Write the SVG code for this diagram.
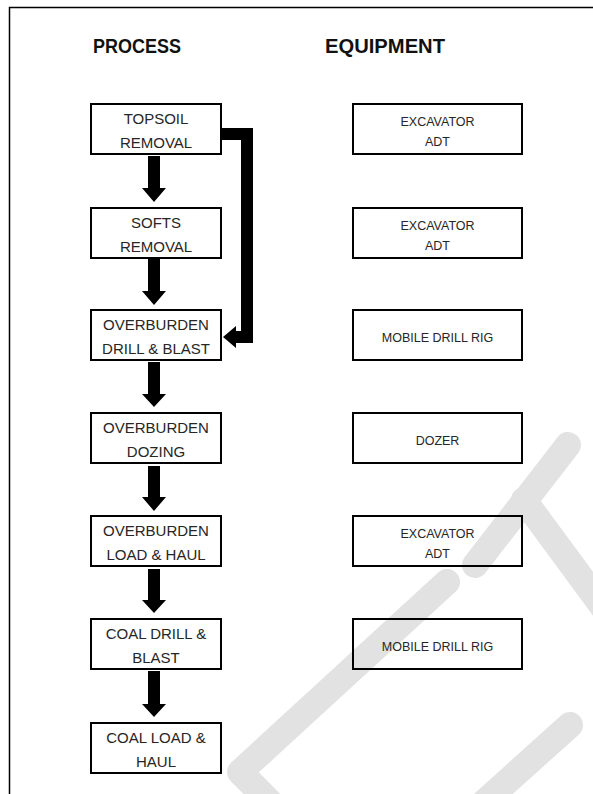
<svg xmlns="http://www.w3.org/2000/svg" width="593" height="794" viewBox="0 0 593 794">
  <style>
    .frame { fill: none; stroke: #000; stroke-width: 1.5; }
    .wm { fill: none; stroke: #e2e2e2; stroke-width: 26; stroke-linecap: round; stroke-linejoin: round; }
    .box { fill: none; stroke: #000; stroke-width: 2; }
    .hdr { font-family: "Liberation Sans", Arial, sans-serif; font-weight: bold; font-size: 21px; fill: #111; text-anchor: middle; }
    .pt { font-family: "Liberation Sans", Arial, sans-serif; font-size: 15px; fill: #262626; text-anchor: middle; }
    .et { font-family: "Liberation Sans", Arial, sans-serif; font-size: 12.5px; fill: #262626; text-anchor: middle; }
    .arr { fill: #000; stroke: none; }
  </style>

  <rect x="0" y="0" width="593" height="794" fill="#fff"/>

  <!-- watermark -->
  <g id="watermark">
    <path class="wm" d="M568,445 L475,565"/>
    <path class="wm" d="M524,500 L605,610"/>
    <path class="wm" d="M447,582 L240,772 L280,812"/>
    <path class="wm" d="M570,725 L470,815"/>
  </g>

  <!-- page frame -->
  <g id="frame">
    <path class="frame" d="M9.5,794 V7.5 H593"/>
  </g>

  <!-- headers -->
  <g id="headers">
    <text class="hdr" x="137" y="53" textLength="88" lengthAdjust="spacingAndGlyphs">PROCESS</text>
    <text class="hdr" x="385" y="53" textLength="120" lengthAdjust="spacingAndGlyphs">EQUIPMENT</text>
  </g>

  <!-- process nodes -->
  <g id="p-topsoil">
    <rect class="box" x="91" y="104" width="130" height="50"/>
    <text class="pt" x="156" y="124">TOPSOIL</text>
    <text class="pt" x="156" y="148">REMOVAL</text>
  </g>
  <g id="p-softs">
    <rect class="box" x="91" y="208" width="130" height="50"/>
    <text class="pt" x="156" y="228">SOFTS</text>
    <text class="pt" x="156" y="252">REMOVAL</text>
  </g>
  <g id="p-ob-drill">
    <rect class="box" x="91" y="310" width="130" height="50"/>
    <text class="pt" x="156" y="330">OVERBURDEN</text>
    <text class="pt" x="156" y="354">DRILL &amp; BLAST</text>
  </g>
  <g id="p-ob-dozing">
    <rect class="box" x="91" y="413" width="130" height="50"/>
    <text class="pt" x="156" y="433">OVERBURDEN</text>
    <text class="pt" x="156" y="457">DOZING</text>
  </g>
  <g id="p-ob-load">
    <rect class="box" x="91" y="516" width="130" height="50"/>
    <text class="pt" x="156" y="536">OVERBURDEN</text>
    <text class="pt" x="156" y="560">LOAD &amp; HAUL</text>
  </g>
  <g id="p-coal-drill">
    <rect class="box" x="91" y="619" width="130" height="50"/>
    <text class="pt" x="156" y="639">COAL DRILL &amp;</text>
    <text class="pt" x="156" y="663">BLAST</text>
  </g>
  <g id="p-coal-load">
    <rect class="box" x="91" y="723" width="130" height="50"/>
    <text class="pt" x="156" y="743">COAL LOAD &amp;</text>
    <text class="pt" x="156" y="767">HAUL</text>
  </g>

  <!-- equipment nodes -->
  <g id="e-1">
    <rect class="box" x="353" y="104" width="169" height="50"/>
    <text class="et" x="437.5" y="126">EXCAVATOR</text>
    <text class="et" x="437.5" y="146">ADT</text>
  </g>
  <g id="e-2">
    <rect class="box" x="353" y="208" width="169" height="50"/>
    <text class="et" x="437.5" y="230">EXCAVATOR</text>
    <text class="et" x="437.5" y="250">ADT</text>
  </g>
  <g id="e-3">
    <rect class="box" x="353" y="310" width="169" height="50"/>
    <text class="et" x="437.5" y="342">MOBILE DRILL RIG</text>
  </g>
  <g id="e-4">
    <rect class="box" x="353" y="413" width="169" height="50"/>
    <text class="et" x="437.5" y="445">DOZER</text>
  </g>
  <g id="e-5">
    <rect class="box" x="353" y="516" width="169" height="50"/>
    <text class="et" x="437.5" y="538">EXCAVATOR</text>
    <text class="et" x="437.5" y="558">ADT</text>
  </g>
  <g id="e-6">
    <rect class="box" x="353" y="619" width="169" height="50"/>
    <text class="et" x="437.5" y="651">MOBILE DRILL RIG</text>
  </g>

  <!-- connectors -->
  <g id="connectors">
    <path class="arr" d="M148,156 H160 V188 H166 L154,202 L142,188 H148 Z"/>
    <path class="arr" d="M148,259 H160 V291 H166 L154,305 L142,291 H148 Z"/>
    <path class="arr" d="M148,362 H160 V394 H166 L154,407 L142,394 H148 Z"/>
    <path class="arr" d="M148,466 H160 V497 H166 L154,511 L142,497 H148 Z"/>
    <path class="arr" d="M148,569 H160 V600 H166 L154,613 L142,600 H148 Z"/>
    <path class="arr" d="M148,671 H160 V704 H166 L154,717 L142,704 H148 Z"/>
    <path class="arr" d="M222,128 H253 V343 H236 V348 L223,337 L236,326 V331 H241 V140 H222 Z"/>
  </g>
</svg>
